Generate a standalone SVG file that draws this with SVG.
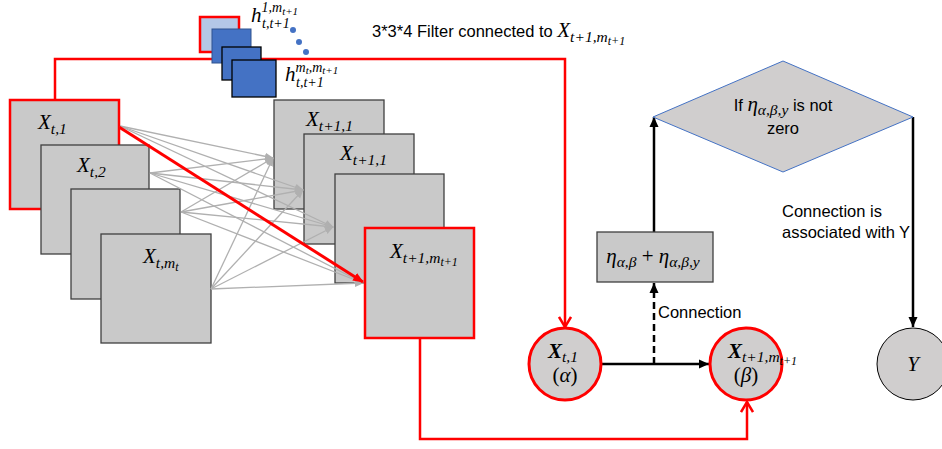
<svg xmlns="http://www.w3.org/2000/svg" width="942" height="449" viewBox="0 0 942 449">
<style>
.box{fill:#c9c9c9;stroke:#3f3f3f;stroke-width:1.3}
.rbox{fill:#c9c9c9;stroke:#ff0000;stroke-width:2.5}
.m{font-family:"Liberation Serif","Times New Roman",serif;font-style:italic;font-size:21px;fill:#000}
.s{font-size:15.5px}
.ss{font-size:12px}
.hs{font-size:14px}
.hss{font-size:11px}
.t{font-family:"Liberation Sans",Arial,sans-serif;font-size:16.5px;fill:#000}
.g{stroke:#b0b0b0;stroke-width:1.3;fill:none;marker-end:url(#ag)}
.red{stroke:#ff0000;stroke-width:2.5;fill:none;marker-end:url(#ar)}
.blk{stroke:#000;stroke-width:2.5;fill:none;marker-end:url(#ab)}
.circ{fill:#d0cece;stroke:#ff0000;stroke-width:3}
.fb{fill:#4472c4;stroke:#000;stroke-width:1.3}
</style>
<defs>
<marker id="ag" viewBox="0 0 10 10" refX="9" refY="5" markerWidth="9" markerHeight="9" markerUnits="userSpaceOnUse" orient="auto"><path d="M0,1 L10,5 L0,9 z" fill="#b0b0b0"/></marker>
<marker id="arf" viewBox="0 0 10 10" refX="9" refY="5" markerWidth="11" markerHeight="11" markerUnits="userSpaceOnUse" orient="auto"><path d="M0,1 L10,5 L0,9 z" fill="#ff0000"/></marker>
<marker id="ar" viewBox="0 0 12 14" refX="11" refY="7" markerWidth="12" markerHeight="14" markerUnits="userSpaceOnUse" orient="auto"><path d="M1,1 L11,7 L1,13" fill="none" stroke="#ff0000" stroke-width="2.5"/></marker>
<marker id="ab" viewBox="0 0 10 10" refX="10" refY="5" markerWidth="10" markerHeight="10" markerUnits="userSpaceOnUse" orient="auto"><path d="M0,0.5 L10,5 L0,9.5 z" fill="#000"/></marker>
</defs>
<rect width="942" height="449" fill="#fff"/>

<g id="x_t_1"><rect class="rbox" x="10" y="100" width="109" height="109"/>
<text class="m" x="38" y="129">X<tspan class="s" dy="5">t,1</tspan></text></g>
<g id="x_t_2"><rect class="box" x="41" y="145" width="108" height="109"/>
<text class="m" x="77" y="172">X<tspan class="s" dy="5">t,2</tspan></text></g>
<g id="x_t_3"><rect class="box" x="71" y="189" width="109" height="110"/></g>
<g id="x_t_mt"><rect class="box" x="101" y="234" width="110" height="109"/>
<text class="m" x="143" y="263">X<tspan class="s" dy="5">t,m</tspan><tspan class="ss" dy="3">t</tspan></text></g>

<g id="x_t1_1"><rect class="box" x="274" y="100" width="110" height="109"/>
<text class="m" x="306" y="126">X<tspan class="s" dy="5">t+1,1</tspan></text></g>
<g id="x_t1_2"><rect class="box" x="304" y="134" width="110" height="110"/>
<text class="m" x="340" y="160">X<tspan class="s" dy="5">t+1,1</tspan></text></g>
<g id="x_t1_3"><rect class="box" x="335" y="174" width="109" height="109"/></g>
<g id="x_t1_m"><rect class="rbox" x="365" y="228" width="109" height="110"/>
<text class="m" x="390" y="258">X<tspan class="s" dy="5">t+1,m</tspan><tspan class="ss" dy="3">t+1</tspan></text></g>

<g id="connectors">
<line class="g" x1="120" y1="126" x2="273" y2="158"/>
<line class="g" x1="120" y1="126" x2="303" y2="190"/>
<line class="g" x1="120" y1="126" x2="333" y2="227"/>
<line class="g" x1="150" y1="173" x2="273" y2="158"/>
<line class="g" x1="150" y1="173" x2="303" y2="190"/>
<line class="g" x1="150" y1="173" x2="333" y2="227"/>
<line class="g" x1="150" y1="173" x2="363" y2="283"/>
<line class="g" x1="181" y1="212" x2="273" y2="158"/>
<line class="g" x1="181" y1="212" x2="303" y2="190"/>
<line class="g" x1="181" y1="212" x2="333" y2="227"/>
<line class="g" x1="181" y1="212" x2="363" y2="283"/>
<line class="g" x1="211" y1="289" x2="273" y2="158"/>
<line class="g" x1="211" y1="289" x2="303" y2="190"/>
<line class="g" x1="211" y1="289" x2="333" y2="227"/>
<line class="g" x1="211" y1="289" x2="363" y2="283"/>
<line x1="119" y1="127" x2="363" y2="282" stroke="#ff0000" stroke-width="3" marker-end="url(#arf)"/>
<path class="red" d="M55,100 V59 H565 V327"/>
<path class="red" d="M420,338 V439 H747 V402"/>
<line class="blk" x1="601" y1="364" x2="709" y2="364"/>
<line class="blk" x1="654" y1="364" x2="654" y2="283" stroke-dasharray="7,4"/>
<line class="blk" x1="654" y1="232" x2="654" y2="117"/>
<line class="blk" x1="913" y1="117" x2="913" y2="327"/>
</g>

<g id="filter">
<rect x="200" y="17" width="39" height="35" fill="#b4c7e7" stroke="#ff0000" stroke-width="2.5"/>
<rect x="212" y="29" width="39" height="34" fill="#4472c4" stroke="#2f528f" stroke-width="1"/>
<rect class="fb" x="222" y="47" width="39" height="33"/>
<rect class="fb" x="232" y="60" width="44" height="37"/>
<circle cx="293" cy="30" r="3" fill="#4472c4"/>
<circle cx="299" cy="42" r="3" fill="#4472c4"/>
<circle cx="306" cy="52" r="3" fill="#4472c4"/>
<text class="m" x="251" y="22">h<tspan class="hs" dy="-10">1,m</tspan><tspan class="hss" dy="3">t+1</tspan><tspan class="hs" x="262" dy="13">t,t+1</tspan></text>
<text class="m" x="285" y="81">h<tspan class="hs" dy="-9">m</tspan><tspan class="hss" dy="2">t</tspan><tspan class="hs" dy="-2">,m</tspan><tspan class="hss" dy="2">t+1</tspan><tspan class="hs" x="296" dy="13">t,t+1</tspan></text>
<text class="t" x="372" y="37">3*3*4 Filter connected to <tspan class="m">X<tspan class="s" dy="5">t+1,m</tspan><tspan class="ss" dy="3">t+1</tspan></tspan></text>
</g>

<g id="alpha"><circle class="circ" cx="565" cy="364" r="36"/>
<text class="m" x="563" y="358" text-anchor="middle"><tspan font-weight="bold">X</tspan><tspan class="s" dy="4">t,1</tspan></text>
<text class="m" x="565" y="382" text-anchor="middle"><tspan font-style="normal">(</tspan>α<tspan font-style="normal">)</tspan></text></g>

<g id="beta"><circle class="circ" cx="746" cy="364" r="36"/>
<text class="m" x="728" y="358"><tspan font-weight="bold">X</tspan><tspan class="s" dy="4">t+1,m</tspan><tspan class="ss" dy="3">t+1</tspan></text>
<text class="m" x="746" y="382" text-anchor="middle"><tspan font-style="normal">(</tspan>β<tspan font-style="normal">)</tspan></text></g>

<g id="eta"><rect class="box" x="597" y="232" width="116" height="50"/>
<text class="m" x="653" y="263" text-anchor="middle">η<tspan class="s" dy="4">α,β</tspan><tspan font-style="normal" dy="-4"> + </tspan>η<tspan class="s" dy="4">α,β,y</tspan></text></g>

<g id="decision"><polygon points="653,117 783,61 913,117 783,172" fill="#d0cece" stroke="#4472c4" stroke-width="1"/>
<text class="t" x="783" y="111" text-anchor="middle">If <tspan class="m">η<tspan class="s" dy="4">α,β,y</tspan></tspan><tspan dy="-4"> is not</tspan></text>
<text class="t" x="783" y="134" text-anchor="middle">zero</text></g>

<g id="y"><circle cx="913" cy="364" r="36" fill="#d0cece" stroke="#000" stroke-width="1"/>
<text class="m" x="913" y="371" text-anchor="middle">Y</text></g>

<g id="labels">
<text class="t" x="658" y="318">Connection</text>
<text class="t" x="782" y="217">Connection is</text>
<text class="t" x="782" y="238">associated with Y</text>
</g>
</svg>
